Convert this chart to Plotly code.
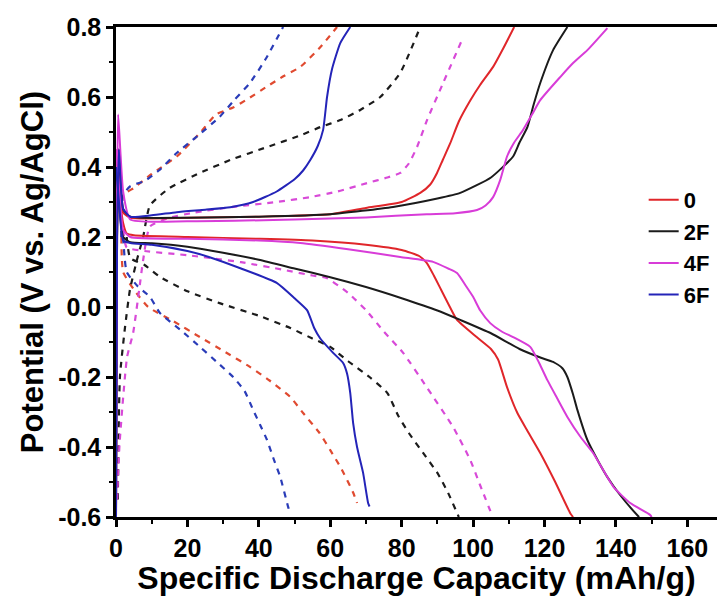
import plotly.graph_objects as go

# ---- charge / discharge data (capacity in mAh/g, potential in V vs. Ag/AgCl) ----
samples = ["0", "2F", "4F", "6F"]
colors = {"0": "#e0262a", "2F": "#1b1b1b", "4F": "#d83cd8", "6F": "#2424b8"}
dash_colors = {"0": "#e04a30", "2F": "#1b1b1b", "4F": "#d84ad8", "6F": "#2a3cb8"}

# solid curves: charge branch
charge_x_0 = [0, 0.3, 0.8, 2, 4, 20, 40, 60, 70, 80, 85.2, 88, 89.9, 91.5, 93.6, 96, 99.2, 102, 105.6, 108.5, 111.5]
charge_y_0 = [-0.6, 0.2, 0.45, 0.27, 0.255, 0.255, 0.258, 0.265, 0.283, 0.3, 0.326, 0.35, 0.383, 0.42, 0.468, 0.53, 0.59, 0.635, 0.686, 0.74, 0.8]
charge_x_2F = [0, 0.3, 0.8, 2, 4, 20, 40, 60, 77.6, 90, 96.4, 105, 111.2, 113, 115.2, 117, 118.8, 122.4, 126.4]
charge_y_2F = [-0.6, 0.2, 0.45, 0.28, 0.258, 0.255, 0.258, 0.265, 0.286, 0.31, 0.326, 0.37, 0.43, 0.47, 0.514, 0.58, 0.64, 0.734, 0.8]
charge_x_4F = [0, 0.3, 0.6, 2, 4, 20, 50, 70, 87, 95, 101.1, 103.5, 105.6, 107.6, 109.5, 111.5, 114, 116.5, 118.8, 124.4, 128, 132, 137.6]
charge_y_4F = [-0.6, 0.3, 0.55, 0.33, 0.25, 0.245, 0.25, 0.256, 0.265, 0.268, 0.277, 0.29, 0.314, 0.363, 0.43, 0.47, 0.506, 0.55, 0.591, 0.657, 0.697, 0.734, 0.797]
charge_x_6F = [0, 0.3, 0.8, 2, 4, 10, 17, 25, 32, 38.4, 45, 50, 52.4, 54.4, 56.5, 58, 59.1, 60.5, 62.8, 65.6]
charge_y_6F = [-0.6, 0.2, 0.45, 0.28, 0.258, 0.262, 0.271, 0.278, 0.285, 0.3, 0.33, 0.365, 0.39, 0.42, 0.46, 0.506, 0.6, 0.68, 0.754, 0.8]

# solid curves: discharge branch
dis_x_0 = [0, 1, 2, 3, 5, 20, 40, 55, 70, 80, 85, 87, 89, 91, 93.5, 95.5, 101, 105, 107, 109.5, 112.4, 115, 118.8, 123, 127.2, 128]
dis_y_0 = [0.45, 0.32, 0.24, 0.21, 0.205, 0.2, 0.195, 0.19, 0.178, 0.163, 0.145, 0.126, 0.09, 0.05, 0.0, -0.037, -0.086, -0.12, -0.15, -0.229, -0.303, -0.35, -0.417, -0.5, -0.589, -0.6]
dis_x_2F = [0, 1, 2, 4, 10, 20, 30, 40, 50, 60, 70, 80, 90, 96.4, 105, 113, 119, 122.4, 125, 126.4, 128, 129.2, 132, 135, 137.6, 141, 146, 146.5]
dis_y_2F = [0.4, 0.28, 0.2, 0.185, 0.182, 0.172, 0.155, 0.135, 0.11, 0.085, 0.057, 0.025, -0.01, -0.037, -0.075, -0.12, -0.145, -0.157, -0.175, -0.2, -0.25, -0.294, -0.38, -0.44, -0.486, -0.535, -0.595, -0.6]
dis_x_4F = [0, 1, 2, 4, 20, 40, 51.6, 65, 79.6, 88.8, 93, 95.5, 98, 100, 102, 104.8, 108, 111.2, 116, 118.5, 120.8, 123.5, 126.4, 130, 133.6, 139.3, 144, 149.6, 150]
dis_y_4F = [0.45, 0.33, 0.22, 0.2, 0.195, 0.19, 0.183, 0.165, 0.143, 0.129, 0.11, 0.097, 0.06, 0.029, -0.01, -0.046, -0.07, -0.086, -0.114, -0.16, -0.209, -0.26, -0.314, -0.37, -0.417, -0.514, -0.56, -0.594, -0.6]
dis_x_6F = [0, 1, 2, 4, 10, 20, 26, 35, 45, 50, 53.5, 55.5, 57.2, 60.8, 63.6, 64.7, 65.6, 66.4, 67.5, 69.2, 70.6, 71]
dis_y_6F = [0.4, 0.28, 0.19, 0.183, 0.178, 0.16, 0.143, 0.11, 0.069, 0.025, -0.009, -0.06, -0.09, -0.131, -0.16, -0.19, -0.246, -0.331, -0.4, -0.474, -0.56, -0.57]

# dashed curves: charge branch
dcharge_x_0 = [1.5, 2, 5, 10, 17, 23.5, 28, 32.8, 37, 42.3, 47, 51.6, 57, 61.9]
dcharge_y_0 = [0.2, 0.32, 0.34, 0.38, 0.43, 0.497, 0.55, 0.57, 0.595, 0.63, 0.66, 0.686, 0.74, 0.8]
dcharge_x_2F = [0.5, 1.1, 2.5, 3.9, 6, 7.6, 9.5, 15, 23.5, 32, 42.3, 51.6, 57.2, 62.8, 68.4, 74, 79.6, 85.2]
dcharge_y_2F = [-0.55, -0.2, -0.06, 0.049, 0.14, 0.2, 0.29, 0.34, 0.383, 0.42, 0.457, 0.49, 0.514, 0.534, 0.563, 0.6, 0.669, 0.8]
dcharge_x_4F = [0.3, 1, 3.1, 4.8, 6.5, 7.6, 9.5, 15, 22, 32.8, 45, 54.4, 62, 70.3, 76, 79.6, 82, 84.3, 87.1, 91.6, 97.2]
dcharge_y_4F = [-0.55, -0.39, -0.143, -0.074, 0.05, 0.134, 0.23, 0.255, 0.27, 0.286, 0.3, 0.314, 0.33, 0.354, 0.37, 0.383, 0.41, 0.457, 0.534, 0.64, 0.77]
dcharge_x_6F = [1.5, 2, 4, 8, 12, 17, 23, 29, 33, 37.5, 42, 46.8]
dcharge_y_6F = [0.2, 0.32, 0.345, 0.36, 0.39, 0.44, 0.49, 0.543, 0.59, 0.64, 0.71, 0.8]

# dashed curves: discharge branch
ddis_x_0 = [1.5, 2, 5, 9, 16, 23.5, 30, 37.5, 43, 48.8, 52.4, 57, 60, 63, 66.4, 67.5]
ddis_y_0 = [0.2, 0.1, 0.05, 0.0, -0.04, -0.086, -0.125, -0.171, -0.21, -0.257, -0.303, -0.36, -0.409, -0.46, -0.53, -0.56]
ddis_x_2F = [3, 4, 8, 12.3, 20, 29, 40, 48.8, 55, 60, 65, 71, 76, 79, 82, 86, 90, 93, 96]
ddis_y_2F = [0.2, 0.14, 0.12, 0.086, 0.045, 0.011, -0.025, -0.06, -0.09, -0.114, -0.155, -0.2, -0.246, -0.31, -0.36, -0.417, -0.474, -0.531, -0.6]
ddis_x_4F = [2, 3, 8, 20, 35, 47, 55, 59, 65, 70, 75, 80.4, 87, 94.4, 99.2, 102, 105.5]
ddis_y_4F = [0.22, 0.17, 0.16, 0.148, 0.128, 0.106, 0.09, 0.083, 0.04, -0.009, -0.07, -0.131, -0.229, -0.343, -0.437, -0.51, -0.6]
ddis_x_6F = [2, 3, 6, 9.5, 12.3, 18, 23.5, 28, 32.8, 36, 38.4, 40.5, 42.3, 44, 46, 48.2, 48.8]
ddis_y_6F = [0.2, 0.1, 0.06, 0.029, -0.017, -0.065, -0.114, -0.155, -0.2, -0.24, -0.294, -0.34, -0.38, -0.43, -0.486, -0.571, -0.59]

# axis ticks
x_ticks = [0, 20, 40, 60, 80, 100, 120, 140, 160]
x_ticklabels = ["0", "20", "40", "60", "80", "100", "120", "140", "160"]
y_ticks = [-0.6, -0.4, -0.2, 0.0, 0.2, 0.4, 0.6, 0.8]
y_ticklabels = ["-0.6", "-0.4", "-0.2", "0.0", "0.2", "0.4", "0.6", "0.8"]

solid = {
    "0": [(charge_x_0, charge_y_0), (dis_x_0, dis_y_0)],
    "2F": [(charge_x_2F, charge_y_2F), (dis_x_2F, dis_y_2F)],
    "4F": [(charge_x_4F, charge_y_4F), (dis_x_4F, dis_y_4F)],
    "6F": [(charge_x_6F, charge_y_6F), (dis_x_6F, dis_y_6F)],
}
dashed = {
    "0": [(dcharge_x_0, dcharge_y_0), (ddis_x_0, ddis_y_0)],
    "2F": [(dcharge_x_2F, dcharge_y_2F), (ddis_x_2F, ddis_y_2F)],
    "4F": [(dcharge_x_4F, dcharge_y_4F), (ddis_x_4F, ddis_y_4F)],
    "6F": [(dcharge_x_6F, dcharge_y_6F), (ddis_x_6F, ddis_y_6F)],
}

fig = go.Figure()

for s in samples:
    for xs, ys in dashed[s]:
        fig.add_trace(go.Scatter(
            x=xs, y=ys, mode="lines", showlegend=False, hoverinfo="skip",
            line=dict(color=dash_colors[s], width=2.2, dash="6px,6px", shape="spline", smoothing=0.5),
        ))

for s in samples:
    for i, (xs, ys) in enumerate(solid[s]):
        fig.add_trace(go.Scatter(
            x=xs, y=ys, mode="lines", name=s, legendgroup=s, showlegend=(i == 0),
            line=dict(color=colors[s], width=2, shape="spline", smoothing=0.5),
        ))

bold = dict(family="Liberation Sans, Arial, sans-serif", color="black", weight="bold")

fig.update_layout(
    width=717, height=596,
    margin=dict(l=116, r=0, t=27, b=79),
    paper_bgcolor="white", plot_bgcolor="white",
    showlegend=True,
    legend=dict(
        x=0.878, y=0.69, xanchor="left", yanchor="top",
        font=dict(size=22, **bold), bgcolor="rgba(0,0,0,0)",
        tracegroupgap=0, itemwidth=30,
    ),
    xaxis=dict(
        range=[0, 168.3], tickvals=x_ticks, ticktext=x_ticklabels,
        showgrid=False, zeroline=False,
        showline=True, linecolor="black", linewidth=2.5, mirror=True,
        ticks="outside", ticklen=7, tickwidth=2.5, tickcolor="black",
        minor=dict(dtick=10, ticks="outside", ticklen=4, tickwidth=2, tickcolor="black"),
        tickfont=dict(size=25, **bold),
        title=dict(text="Specific Discharge Capacity (mAh/g)", font=dict(size=32, **bold), standoff=0),
    ),
    yaxis=dict(
        range=[-0.6, 0.8], tickvals=y_ticks, ticktext=y_ticklabels,
        showgrid=False, zeroline=False,
        showline=True, linecolor="black", linewidth=2.5, mirror=False,
        ticks="outside", ticklen=7, tickwidth=2.5, tickcolor="black",
        minor=dict(dtick=0.1, ticks="outside", ticklen=4, tickwidth=2, tickcolor="black"),
        tickfont=dict(size=25, **bold),
        title=dict(text="Potential (V vs. Ag/AgCl)", font=dict(size=31, **bold), standoff=6),
    ),
)

fig.write_html("out.html")
